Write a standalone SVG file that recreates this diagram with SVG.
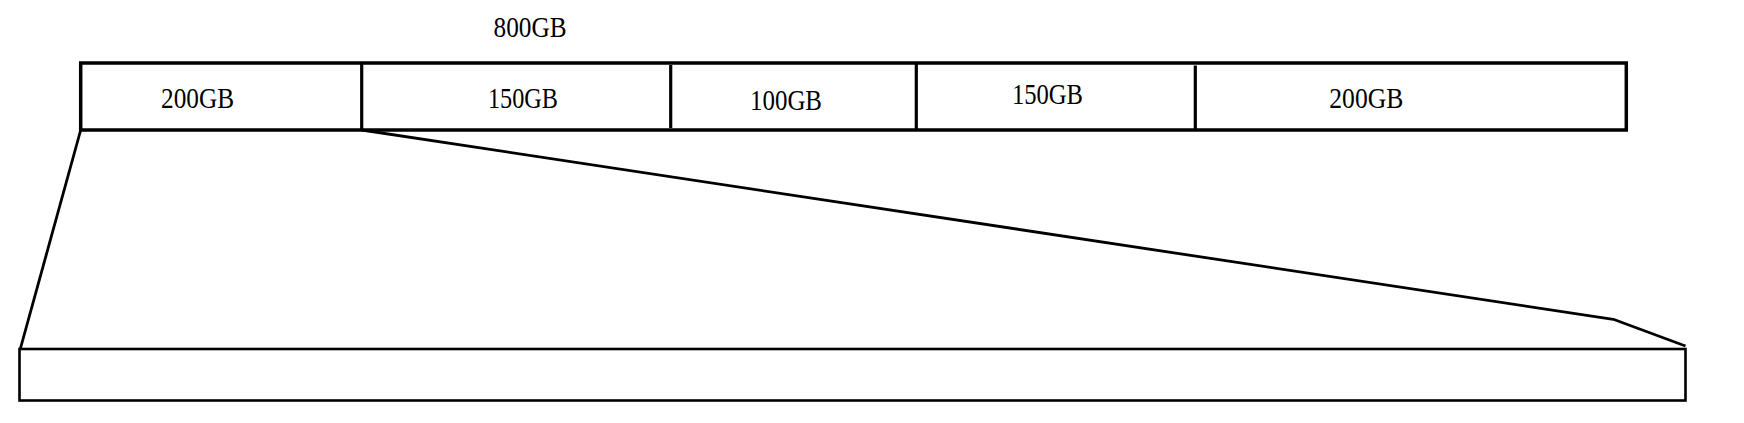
<svg xmlns="http://www.w3.org/2000/svg" width="1744" height="423" viewBox="0 0 1744 423">
<style>
.box{fill:#fff;stroke:#000;stroke-width:3.5}
.div{stroke:#000;stroke-width:3.2;fill:none}
.ln{stroke:#000;stroke-width:2.8;fill:none;stroke-linejoin:round}
.bot{fill:#fff;stroke:#000;stroke-width:2.6}
.t{font-family:"Liberation Serif","Noto Sans CJK SC",serif;font-size:29px;fill:#000;text-anchor:middle}
</style>
<rect width="1744" height="423" fill="#fff"/>
<g id="connectors">
<polyline class="ln" points="80.7,130 20,350"/>
<polyline class="ln" points="361.7,130 1613.3,319.3 1685.5,346"/>
</g>
<g id="total-label">
<text class="t" x="530" y="36.5" textLength="73" lengthAdjust="spacingAndGlyphs">800GB</text>
</g>
<g id="disk">
<rect class="box" x="80.7" y="63" width="1545.6" height="67"/>
<line class="div" x1="361.7" y1="63" x2="361.7" y2="130"/>
<line class="div" x1="670.7" y1="65" x2="670.7" y2="128"/>
<line class="div" x1="916.3" y1="63" x2="916.3" y2="130"/>
<line class="div" x1="1195.3" y1="65.5" x2="1195.3" y2="130"/>
</g>
<g id="seg1"><text class="t" x="197.5" y="108" textLength="73" lengthAdjust="spacingAndGlyphs">200GB</text></g>
<g id="seg2"><text class="t" x="523" y="108" textLength="70" lengthAdjust="spacingAndGlyphs">150GB</text></g>
<g id="seg3"><text class="t" x="786" y="110" textLength="72" lengthAdjust="spacingAndGlyphs">100GB</text></g>
<g id="seg4"><text class="t" x="1047.5" y="104" textLength="71" lengthAdjust="spacingAndGlyphs">150GB</text></g>
<g id="seg5"><text class="t" x="1366.3" y="107.5" textLength="74" lengthAdjust="spacingAndGlyphs">200GB</text></g>
<g id="expanded">
<rect class="bot" x="19.5" y="349" width="1666" height="51.5"/>
</g>
</svg>
